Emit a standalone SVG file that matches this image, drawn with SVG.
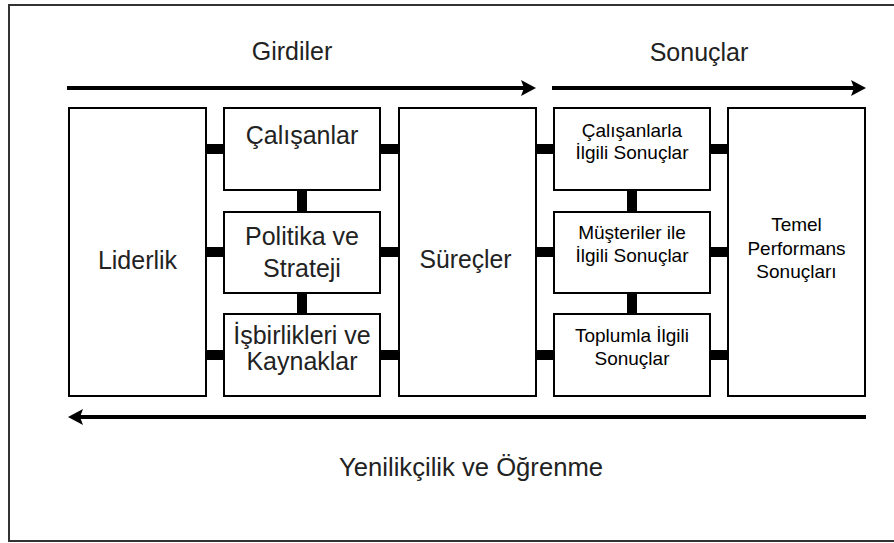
<svg xmlns="http://www.w3.org/2000/svg" width="894" height="543" viewBox="0 0 894 543">
<defs>
<style>
.box{fill:#fff;stroke:#000;stroke-width:2}
.bar{fill:#000}
.flow{stroke:#000;stroke-width:4;fill:none;marker-end:url(#ah)}
.big{font-family:"Liberation Sans",Arial,sans-serif;font-size:25px;fill:#222;text-anchor:middle}
.sm{font-family:"Liberation Sans",Arial,sans-serif;font-size:19px;fill:#000;text-anchor:middle}
</style>
<marker id="ah" markerUnits="userSpaceOnUse" markerWidth="16" markerHeight="16" refX="9" refY="8" orient="auto">
<path d="M0,0 L15,8 L0,16 L3,8 Z" fill="#000"/>
</marker>
</defs>
<rect x="0" y="0" width="894" height="543" fill="#fff"/>
<rect x="9" y="5" width="900" height="536" fill="none" stroke="#333" stroke-width="2"/>

<g id="labels">
<text class="big" x="292" y="60" font-size="26">Girdiler</text>
<text class="big" x="699" y="61" font-size="26">Sonuçlar</text>
<text class="big" x="471" y="476" font-size="26" textLength="264" lengthAdjust="spacingAndGlyphs">Yenilikçilik ve Öğrenme</text>
</g>

<g id="connectors">
<line class="flow" x1="67" y1="88" x2="530" y2="88"/>
<line class="flow" x1="552" y1="88" x2="860" y2="88"/>
<line class="flow" x1="866" y1="417" x2="74" y2="417"/>
<rect class="bar" x="206" y="144" width="18" height="10"/>
<rect class="bar" x="206" y="247" width="18" height="10"/>
<rect class="bar" x="206" y="350" width="18" height="10"/>
<rect class="bar" x="380" y="144" width="19" height="10"/>
<rect class="bar" x="380" y="247" width="19" height="10"/>
<rect class="bar" x="380" y="350" width="19" height="10"/>
<rect class="bar" x="536" y="144" width="18" height="10"/>
<rect class="bar" x="536" y="247" width="18" height="10"/>
<rect class="bar" x="536" y="350" width="18" height="10"/>
<rect class="bar" x="710" y="144" width="18" height="10"/>
<rect class="bar" x="710" y="247" width="18" height="10"/>
<rect class="bar" x="710" y="350" width="18" height="10"/>
<rect class="bar" x="297" y="190" width="10" height="22"/>
<rect class="bar" x="297" y="293" width="10" height="21"/>
<rect class="bar" x="627" y="190" width="10" height="22"/>
<rect class="bar" x="627" y="293" width="10" height="21"/>
</g>

<g id="liderlik">
<rect class="box" x="69" y="108" width="137" height="288"/>
<text class="big" x="137.5" y="269">Liderlik</text>
</g>
<g id="calisanlar">
<rect class="box" x="224" y="108" width="156" height="82"/>
<text class="big" x="302" y="144" font-size="26">Çalışanlar</text>
</g>
<g id="politika">
<rect class="box" x="224" y="212" width="156" height="81"/>
<text class="big" x="302" y="245">Politika ve</text>
<text class="big" x="302" y="277">Strateji</text>
</g>
<g id="isbirlikleri">
<rect class="box" x="224" y="314" width="156" height="82"/>
<text class="big" x="302" y="344" font-size="21">İşbirlikleri ve</text>
<text class="big" x="302" y="370" font-size="21">Kaynaklar</text>
</g>
<g id="surecler">
<rect class="box" x="399" y="108" width="137" height="288"/>
<text class="big" x="465.5" y="268" textLength="92" lengthAdjust="spacingAndGlyphs">Süreçler</text>
</g>
<g id="calisan-sonuclari">
<rect class="box" x="554" y="108" width="156" height="82"/>
<text class="sm" x="632" y="137">Çalışanlarla</text>
<text class="sm" x="632" y="159">İlgili Sonuçlar</text>
</g>
<g id="musteri-sonuclari">
<rect class="box" x="554" y="212" width="156" height="81"/>
<text class="sm" x="632" y="239">Müşteriler ile</text>
<text class="sm" x="632" y="262">İlgili Sonuçlar</text>
</g>
<g id="toplum-sonuclari">
<rect class="box" x="554" y="314" width="156" height="82"/>
<text class="sm" x="632" y="342">Toplumla İlgili</text>
<text class="sm" x="632" y="365">Sonuçlar</text>
</g>
<g id="temel">
<rect class="box" x="728" y="108" width="137" height="288"/>
<text class="sm" x="796.5" y="231">Temel</text>
<text class="sm" x="796.5" y="255">Performans</text>
<text class="sm" x="796.5" y="278">Sonuçları</text>
</g>
</svg>
